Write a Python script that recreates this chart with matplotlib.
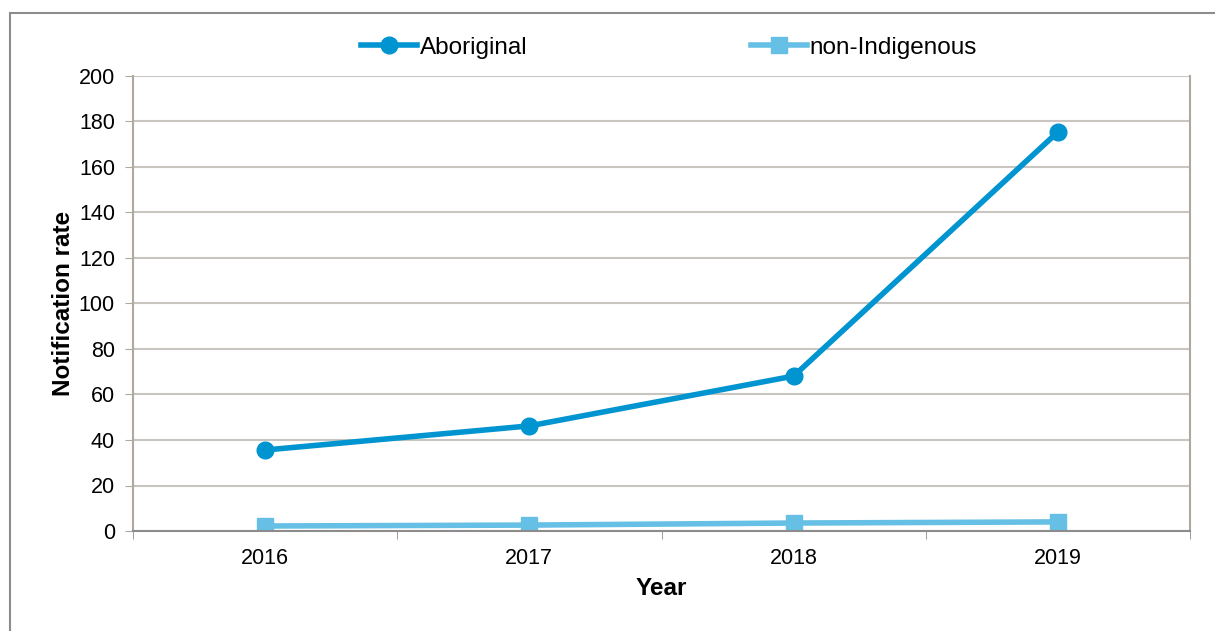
import matplotlib
matplotlib.use("Agg")
import matplotlib.pyplot as plt
from matplotlib.patches import Rectangle
from matplotlib.ticker import FixedLocator

plt.rcParams['font.family'] = ['Liberation Sans', 'DejaVu Sans']

years = ["2016", "2017", "2018", "2019"]
aboriginal = [35.6, 46.2, 68.1, 175.4]
non_indigenous = [2.2, 2.6, 3.5, 4.0]
y_ticks = [0, 20, 40, 60, 80, 100, 120, 140, 160, 180, 200]

W, H = 1215, 631
fig = plt.figure(figsize=(W / 100, H / 100), dpi=100)

# outer chart frame
fig.patches.append(Rectangle((10 / W, -0.1), 1.2, 1 - 13 / H + 0.1,
                             transform=fig.transFigure, fill=False,
                             edgecolor='#8c8c8c', linewidth=1.5))

ax = fig.add_axes([133 / W, 1 - 531 / H, (1190 - 133) / W, (531 - 76) / H])

x = list(range(len(years)))
ax.plot(x, aboriginal, color='#0094D0', linewidth=4, marker='o',
        markersize=12, label='Aboriginal')
ax.plot(x, non_indigenous, color='#66BFE4', linewidth=4, marker='s',
        markersize=11, label='non-Indigenous')

ax.set_xlim(-0.5, 3.5)
ax.set_ylim(0, 200)
ax.set_yticks(y_ticks)
ax.set_xticks(x)
ax.set_xticklabels(years)
ax.xaxis.set_minor_locator(FixedLocator([-0.5, 0.5, 1.5, 2.5, 3.5]))
ax.tick_params(axis='x', which='major', length=0, labelsize=15.5, pad=12)
ax.tick_params(axis='x', which='minor', length=6, color='#8c8c8c', direction='out')
ax.tick_params(axis='y', length=6, color='#b0a89f', labelsize=15.5, pad=7)

ax.grid(axis='y', color='#c9c5c0', linewidth=1.5)
ax.set_axisbelow(True)
ax.spines['top'].set_visible(False)
ax.spines['left'].set_color('#b0a89f')
ax.spines['left'].set_linewidth(1.5)
ax.spines['right'].set_color('#b0a89f')
ax.spines['right'].set_linewidth(1.5)
ax.spines['bottom'].set_color('#8c8c8c')
ax.spines['bottom'].set_linewidth(1.5)

ax.set_ylabel('Notification rate', fontsize=17.5, fontweight='bold', labelpad=3)
ax.set_xlabel('Year', fontsize=17.5, fontweight='bold', labelpad=6)

ax.legend(loc='lower center', bbox_to_anchor=(0.507, 1.0), ncol=2, frameon=False,
          fontsize=17.5, handlelength=2.3, handletextpad=0.1, columnspacing=9.2,
          borderaxespad=0.3)

fig.savefig('out.png', dpi=100, facecolor='white')
